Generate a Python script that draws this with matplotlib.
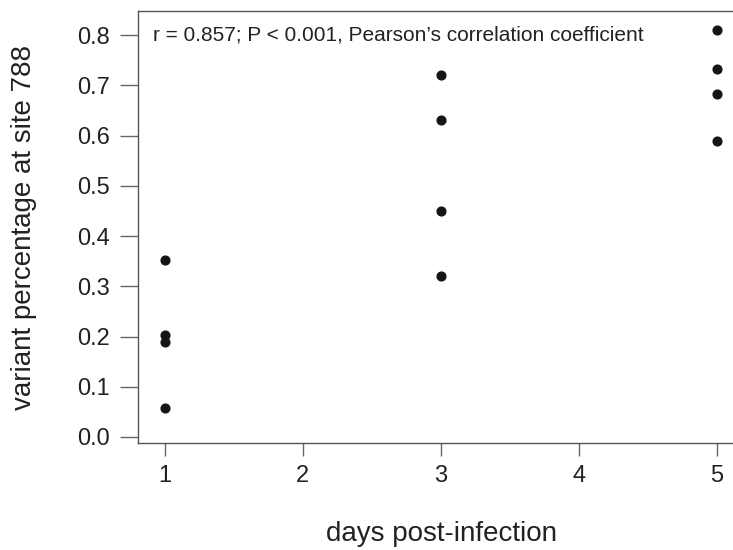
import numpy as np
import matplotlib
matplotlib.use("Agg")
from matplotlib import pyplot as plt
from matplotlib import transforms

plt.rcParams['font.family'] = ['Liberation Sans', 'DejaVu Sans']

# dias y porcentaje de la variante
dias = [1, 1, 1, 1, 3, 3, 3, 3, 5, 5, 5, 5]
variante = [0.353, 0.203, 0.190, 0.057,
            0.720, 0.632, 0.449, 0.321,
            0.810, 0.733, 0.683, 0.590]
xticks = [1, 2, 3, 4, 5]
yticks = [0.0, 0.1, 0.2, 0.3, 0.4, 0.5, 0.6, 0.7, 0.8]
texto = "r = 0.857; P < 0.001, Pearson\u2019s correlation coefficient"

fig = plt.figure(figsize=(7.33, 5.5), dpi=100)
ax = fig.add_axes([0.188, 0.1945, 0.828, 0.7855])
ax.plot(dias, variante, 'o', color='#151515', markersize=6.3)
ax.set_xlim(0.804, 5.2)
ax.set_ylim(-0.012, 0.848)
ax.set_xticks(xticks)
ax.set_xticklabels([str(t) for t in xticks])
ax.set_yticks(yticks)
ax.set_yticklabels(['%.1f' % t for t in yticks])
for s in ax.spines.values():
    s.set_color('#555555')
    s.set_linewidth(1.0)
ax.tick_params(axis='y', direction='out', length=13, width=1.0, color='#666666',
               labelsize=17, labelcolor='#222222', pad=7)
ax.tick_params(axis='x', direction='out', length=9.5, width=1.0, color='#666666',
               labelsize=17, labelcolor='#222222', pad=6)
ax.set_xlabel('days post-infection', fontsize=20, color='#222222', va='center')
ax.xaxis.set_label_coords(0.5, -0.21)
ax.set_ylabel('variant percentage at site 788', fontsize=20, color='#222222', va='center')
ax.yaxis.set_label_coords(-0.188, 0.5)
trans = transforms.blended_transform_factory(ax.transAxes, ax.transData)
ax.text(0.025, 0.8, texto, transform=trans, fontsize=15,
        color='#222222', va='center', ha='left')

fig.savefig('out.png', dpi=100)
